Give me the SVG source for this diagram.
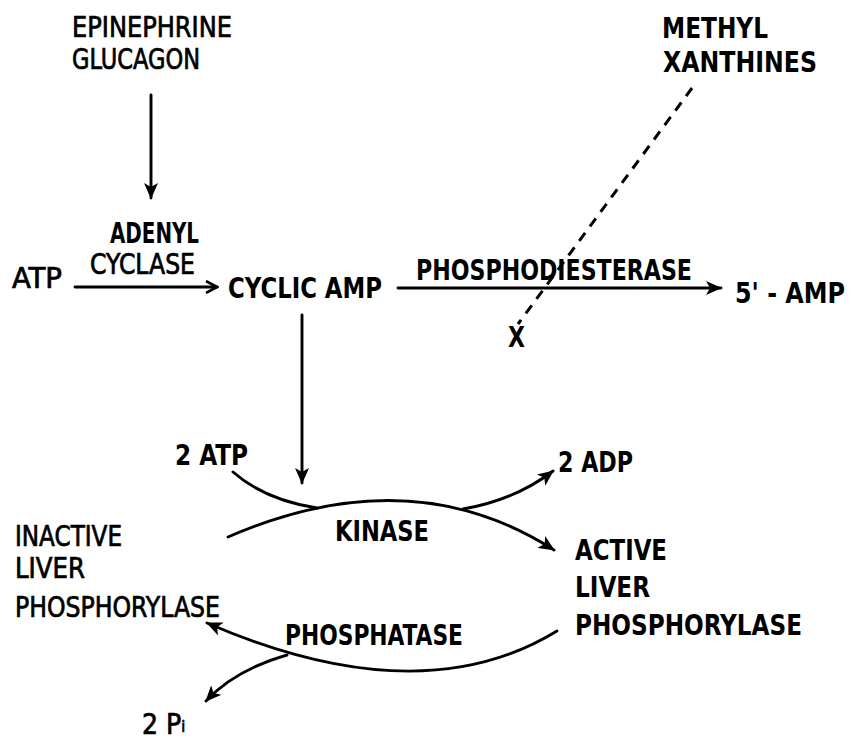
<svg xmlns="http://www.w3.org/2000/svg" width="853" height="741" viewBox="0 0 853 741">
<style>
text{font-family:"Liberation Sans Narrow","DejaVu Sans Condensed","Liberation Sans",sans-serif;font-size:28px;fill:#000}
.n{stroke:#000;stroke-width:0.7}
.b{font-weight:bold}
.ln{fill:none;stroke:#000;stroke-width:2.9;stroke-linecap:round}
.dash{fill:none;stroke:#000;stroke-width:3;stroke-dasharray:10 8}
</style>
<defs>
<marker id="ah" viewBox="0 0 16 14" refX="15" refY="7" markerWidth="16" markerHeight="14" markerUnits="userSpaceOnUse" orient="auto">
<path d="M0,0 L16,7 L0,14 L4,7 z" fill="#000"/>
</marker>
<marker id="chev" viewBox="0 0 14 14" refX="12" refY="7" markerWidth="14" markerHeight="14" markerUnits="userSpaceOnUse" orient="auto">
<path d="M1,1 L12,7 L1,13" fill="none" stroke="#000" stroke-width="2.6"/>
</marker>
</defs>
<rect width="853" height="741" fill="#fff"/>
<g id="connectors">
<line class="ln" x1="151" y1="95" x2="151" y2="198" marker-end="url(#ah)"/>
<line class="ln" x1="75" y1="287" x2="217" y2="287" marker-end="url(#chev)"/>
<line class="ln" x1="398" y1="288" x2="721" y2="288" marker-end="url(#ah)"/>
<line class="ln" x1="302" y1="315" x2="302" y2="483" marker-end="url(#ah)"/>
<line class="dash" x1="692" y1="88" x2="518" y2="324"/>
<path class="ln" d="M228,537 Q410,458 554,550" marker-end="url(#ah)"/>
<path class="ln" d="M233,472 Q265,500 317,508"/>
<path class="ln" d="M463,509 Q515,500 553,471" marker-end="url(#ah)"/>
<path class="ln" d="M557,631 Q420,715 207,623" marker-end="url(#ah)"/>
<path class="ln" d="M287,655 Q235,670 206,701" marker-end="url(#ah)"/>
</g>
<g id="epinephrine">
<text class="n" x="72" y="37" textLength="160" lengthAdjust="spacingAndGlyphs">EPINEPHRINE</text>
<text class="n" x="72" y="69" textLength="128" lengthAdjust="spacingAndGlyphs">GLUCAGON</text>
</g>
<g id="adenyl-cyclase">
<text class="b" x="110" y="243" textLength="89" lengthAdjust="spacingAndGlyphs">ADENYL</text>
<text class="n" x="90" y="274" textLength="105" lengthAdjust="spacingAndGlyphs">CYCLASE</text>
</g>
<g id="atp"><text class="n" x="12" y="288" textLength="50" lengthAdjust="spacingAndGlyphs">ATP</text></g>
<g id="cyclic-amp"><text class="b" x="228" y="298" textLength="154" lengthAdjust="spacingAndGlyphs">CYCLIC AMP</text></g>
<g id="phosphodiesterase"><text class="b" x="416" y="280" textLength="276" lengthAdjust="spacingAndGlyphs">PHOSPHODIESTERASE</text></g>
<g id="amp5"><text class="b" x="735" y="303" textLength="110" lengthAdjust="spacingAndGlyphs">5' - AMP</text></g>
<g id="methyl-xanthines">
<text class="b" x="662" y="38" textLength="106" lengthAdjust="spacingAndGlyphs">METHYL</text>
<text class="b" x="663" y="72" textLength="154" lengthAdjust="spacingAndGlyphs">XANTHINES</text>
</g>
<g id="x-mark"><text class="b" x="508" y="347" textLength="17" lengthAdjust="spacingAndGlyphs">X</text></g>
<g id="atp2"><text class="b" x="175" y="465" textLength="73" lengthAdjust="spacingAndGlyphs">2 ATP</text></g>
<g id="adp2"><text class="b" x="558" y="472" textLength="75" lengthAdjust="spacingAndGlyphs">2 ADP</text></g>
<g id="kinase"><text class="b" x="335" y="541" textLength="94" lengthAdjust="spacingAndGlyphs">KINASE</text></g>
<g id="inactive">
<text class="n" x="15" y="546" textLength="107" lengthAdjust="spacingAndGlyphs">INACTIVE</text>
<text class="n" x="15" y="578" textLength="70" lengthAdjust="spacingAndGlyphs">LIVER</text>
<text class="n" x="15" y="617" textLength="205" lengthAdjust="spacingAndGlyphs">PHOSPHORYLASE</text>
</g>
<g id="active">
<text class="b" x="575" y="560" textLength="92" lengthAdjust="spacingAndGlyphs">ACTIVE</text>
<text class="b" x="575" y="597" textLength="75" lengthAdjust="spacingAndGlyphs">LIVER</text>
<text class="b" x="575" y="635" textLength="227" lengthAdjust="spacingAndGlyphs">PHOSPHORYLASE</text>
</g>
<g id="phosphatase"><text class="b" x="285" y="645" textLength="178" lengthAdjust="spacingAndGlyphs">PHOSPHATASE</text></g>
<g id="pi2"><text class="n" x="142" y="734">2 P<tspan font-size="16" dy="-2">i</tspan></text></g>
</svg>
